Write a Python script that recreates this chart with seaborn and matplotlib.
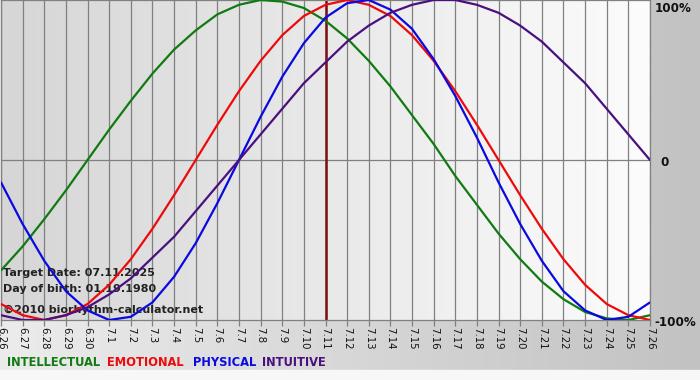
import numpy as np
import pandas as pd
import matplotlib
matplotlib.use("Agg")
import matplotlib.pyplot as plt
import seaborn as sns
from matplotlib.colors import LinearSegmentedColormap

# ---- data ----
day_labels = ["6.26", "6.27", "6.28", "6.29", "6.30"] + [f"7.{d}" for d in range(1, 27)]
physical = [-0.14, -0.40, -0.63, -0.82, -0.94, -1.00, -0.98, -0.89, -0.73, -0.52, -0.27,
            0.00, 0.27, 0.52, 0.73, 0.89, 0.98, 1.00, 0.94, 0.82, 0.63, 0.40, 0.14,
            -0.14, -0.40, -0.63, -0.82, -0.94, -1.00, -0.98, -0.89]
emotional = [-0.90, -0.97, -1.00, -0.97, -0.90, -0.78, -0.62, -0.43, -0.22, 0.00, 0.22,
             0.43, 0.62, 0.78, 0.90, 0.97, 1.00, 0.97, 0.90, 0.78, 0.62, 0.43, 0.22,
             0.00, -0.22, -0.43, -0.62, -0.78, -0.90, -0.97, -1.00]
intellectual = [-0.69, -0.54, -0.37, -0.19, 0.00, 0.19, 0.37, 0.54, 0.69, 0.81, 0.91,
                0.97, 1.00, 0.99, 0.95, 0.87, 0.76, 0.62, 0.46, 0.28, 0.10, -0.10, -0.28,
                -0.46, -0.62, -0.76, -0.87, -0.95, -0.99, -1.00, -0.97]
intuitive = [-0.97, -1.00, -1.00, -0.97, -0.92, -0.84, -0.74, -0.61, -0.48, -0.32, -0.16,
             0.00, 0.16, 0.32, 0.48, 0.61, 0.74, 0.84, 0.92, 0.97, 1.00, 1.00, 0.97,
             0.92, 0.84, 0.74, 0.61, 0.48, 0.32, 0.16, 0.00]
target_label = "7.11"
series_names = ["INTELLECTUAL", "EMOTIONAL", "PHYSICAL", "INTUITIVE"]
y_labels = ["100%", "0", "-100%"]

colors = {"INTELLECTUAL": "#117a11", "EMOTIONAL": "#ee0a0a",
          "PHYSICAL": "#0a0ae0", "INTUITIVE": "#4b1080"}

df = pd.DataFrame({"day": np.arange(len(day_labels)),
                   "INTELLECTUAL": intellectual, "EMOTIONAL": emotional,
                   "PHYSICAL": physical, "INTUITIVE": intuitive})
long = df.melt(id_vars="day", var_name="rhythm", value_name="value")

sns.set_style("white")
plt.rcParams["font.family"] = ["DejaVu Sans"]

W, H = 700, 380
fig = plt.figure(figsize=(W / 100, H / 100), dpi=100)

# outer background gradient
bg = fig.add_axes([0, 0, 1, 1], zorder=-5)
bg.axis("off")
grad = np.linspace(0, 1, 256).reshape(1, -1)
cm_out = LinearSegmentedColormap.from_list("out", ["#ececec", "#c2c2c2"])
bg.imshow(grad, aspect="auto", cmap=cm_out, extent=[0, 1, 0, 1])
bg.axhspan(0, 10 / H, color="#f7f7f7", zorder=2)
bg.set_xlim(0, 1)
bg.set_ylim(0, 1)

ax = fig.add_axes([1 / W, 60 / H, 649 / W, 320 / H])
cm_in = LinearSegmentedColormap.from_list("in", ["#d6d6d6", "#fcfcfc"])
n = len(day_labels) - 1
ax.imshow(grad, aspect="auto", cmap=cm_in, extent=[0, n, -1, 1], zorder=0)

for x in range(len(day_labels)):
    ax.axvline(x, color="#808080", lw=0.9, zorder=1)
ax.axhline(0, color="#808080", lw=0.9, zorder=1)
ax.axvline(day_labels.index(target_label), color="#7a0f0f", lw=1.8, zorder=2)

# info text (behind curves)
txt_kw = dict(fontsize=8, fontweight="bold", color="#222222", zorder=3,
              transform=ax.transAxes, ha="left", va="baseline")
ax.text(2 / 649, (320 - 276) / 320, "Target Date: 07.11.2025", **txt_kw)
ax.text(2 / 649, (320 - 292) / 320, "Day of birth: 01.19.1980", **txt_kw)
ax.text(2 / 649, (320 - 313) / 320, "\u00a92010 biorhythm-calculator.net", **txt_kw)

sns.lineplot(data=long, x="day", y="value", hue="rhythm", palette=colors,
             hue_order=series_names, linewidth=1.6, legend=False, ax=ax, zorder=4)

ax.set_xlim(0, n)
ax.set_ylim(-1, 1)
ax.set_xticks(range(len(day_labels)))
ax.set_xticklabels(day_labels, rotation=-90, fontsize=7.3, color="#111111")
ax.tick_params(axis="x", length=4, width=0.9, color="#808080", pad=1, bottom=True)
ax.set_yticks([])
ax.set_xlabel("")
ax.set_ylabel("")
for s in ax.spines.values():
    s.set_color("#808080")
    s.set_linewidth(0.9)

# right side labels
lab_kw = dict(fontsize=8.6, fontweight="bold", color="#111111", ha="left", va="center")
fig.text(655 / W, 1 - 8 / H, y_labels[0], **lab_kw)
fig.text(660 / W, 1 - 162 / H, y_labels[1], **lab_kw)
fig.text(654 / W, 1 - 322 / H, y_labels[2], **lab_kw)

# legend row
xs = [7, 107, 193, 262]
for name, x in zip(series_names, xs):
    fig.text(x / W, 1 - 362 / H, name, fontsize=8.3, fontweight="bold",
             color=colors[name], ha="left", va="center")

fig.savefig("out.png", dpi=100)
